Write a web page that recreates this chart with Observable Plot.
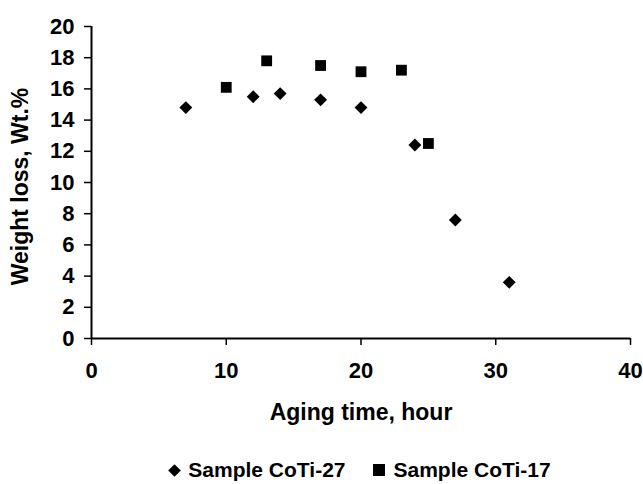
<!DOCTYPE html>
<html><head><meta charset="utf-8">
<script src="https://cdn.jsdelivr.net/npm/d3@7"></script>
<script src="https://cdn.jsdelivr.net/npm/@observablehq/plot@0.6"></script>
<style>
body{margin:0;background:#fff;font-family:"Liberation Sans",Arial,sans-serif;}
#chart svg{display:block;}
#legend{box-sizing:border-box;width:643px;padding-top:28px;padding-left:76px;display:flex;justify-content:center;align-items:center;font-weight:bold;font-size:21px;line-height:24px;color:#000;white-space:nowrap;}
#legend .item{display:flex;align-items:center;}
#legend .item + .item{margin-left:27px;}
#legend .diamond{display:inline-block;width:9px;height:9px;background:#000;transform:rotate(45deg);margin:0 9px 0 2px;}
#legend .square{display:inline-block;width:12px;height:12px;background:#000;margin-right:9px;}
</style></head><body>
<div id="chart"></div><div id="legend"></div>
<script>
const coti27Time = [7, 12, 14, 17, 20, 24, 27, 31];
const coti27Loss = [14.8, 15.5, 15.7, 15.3, 14.8, 12.4, 7.6, 3.6];
const coti17Time = [10, 13, 17, 20, 23, 25];
const coti17Loss = [16.1, 17.8, 17.5, 17.1, 17.2, 12.5];
const seriesNames = ["Sample CoTi-27", "Sample CoTi-17"];
const xTicks = [0, 10, 20, 30, 40];
const yTicks = [0, 2, 4, 6, 8, 10, 12, 14, 16, 18, 20];
const xLabel = "Aging time, hour";
const yLabel = "Weight loss, Wt.%";

const d27 = coti27Time.map((t, i) => ({t, v: coti27Loss[i]}));
const d17 = coti17Time.map((t, i) => ({t, v: coti17Loss[i]}));

const chart = Plot.plot({
  width: 643, height: 430,
  marginLeft: 91, marginRight: 13, marginTop: 26, marginBottom: 92,
  style: {fontFamily: "Liberation Sans, Arial, sans-serif", background: "#fff", color: "#000"},
  x: {domain: [0, 40]},
  y: {domain: [0, 20]},
  marks: [
    Plot.axisX({ticks: xTicks, tickSize: 7, tickPadding: 17, fontSize: 22, fontWeight: "bold", label: null, strokeWidth: 1.5}),
    Plot.axisY({ticks: yTicks, tickSize: 7, tickPadding: 10, fontSize: 22, fontWeight: "bold", label: null, strokeWidth: 1.5}),
    Plot.ruleX([0], {strokeWidth: 2}),
    Plot.ruleY([0], {strokeWidth: 2}),
    Plot.text([xLabel], {text: d => d, frameAnchor: "bottom", lineAnchor: "middle", textAnchor: "middle", dy: 74, fontSize: 23, fontWeight: "bold"}),
    Plot.text([yLabel], {text: d => d, frameAnchor: "left", lineAnchor: "middle", textAnchor: "middle", dx: -71, dy: 4, rotate: -90, fontSize: 23, fontWeight: "bold"}),
    Plot.dot(d27, {x: "t", y: "v", symbol: "diamond2", r: 5.8, fill: "#000", stroke: "none"}),
    Plot.dot(d17, {x: "t", y: "v", symbol: "square", r: 6.1, fill: "#000", stroke: "none"})
  ]
});
document.getElementById("chart").appendChild(chart);
document.getElementById("legend").innerHTML =
  `<span class="item"><span class="diamond"></span>${seriesNames[0]}</span>` +
  `<span class="item"><span class="square"></span>${seriesNames[1]}</span>`;
</script>
</body></html>
